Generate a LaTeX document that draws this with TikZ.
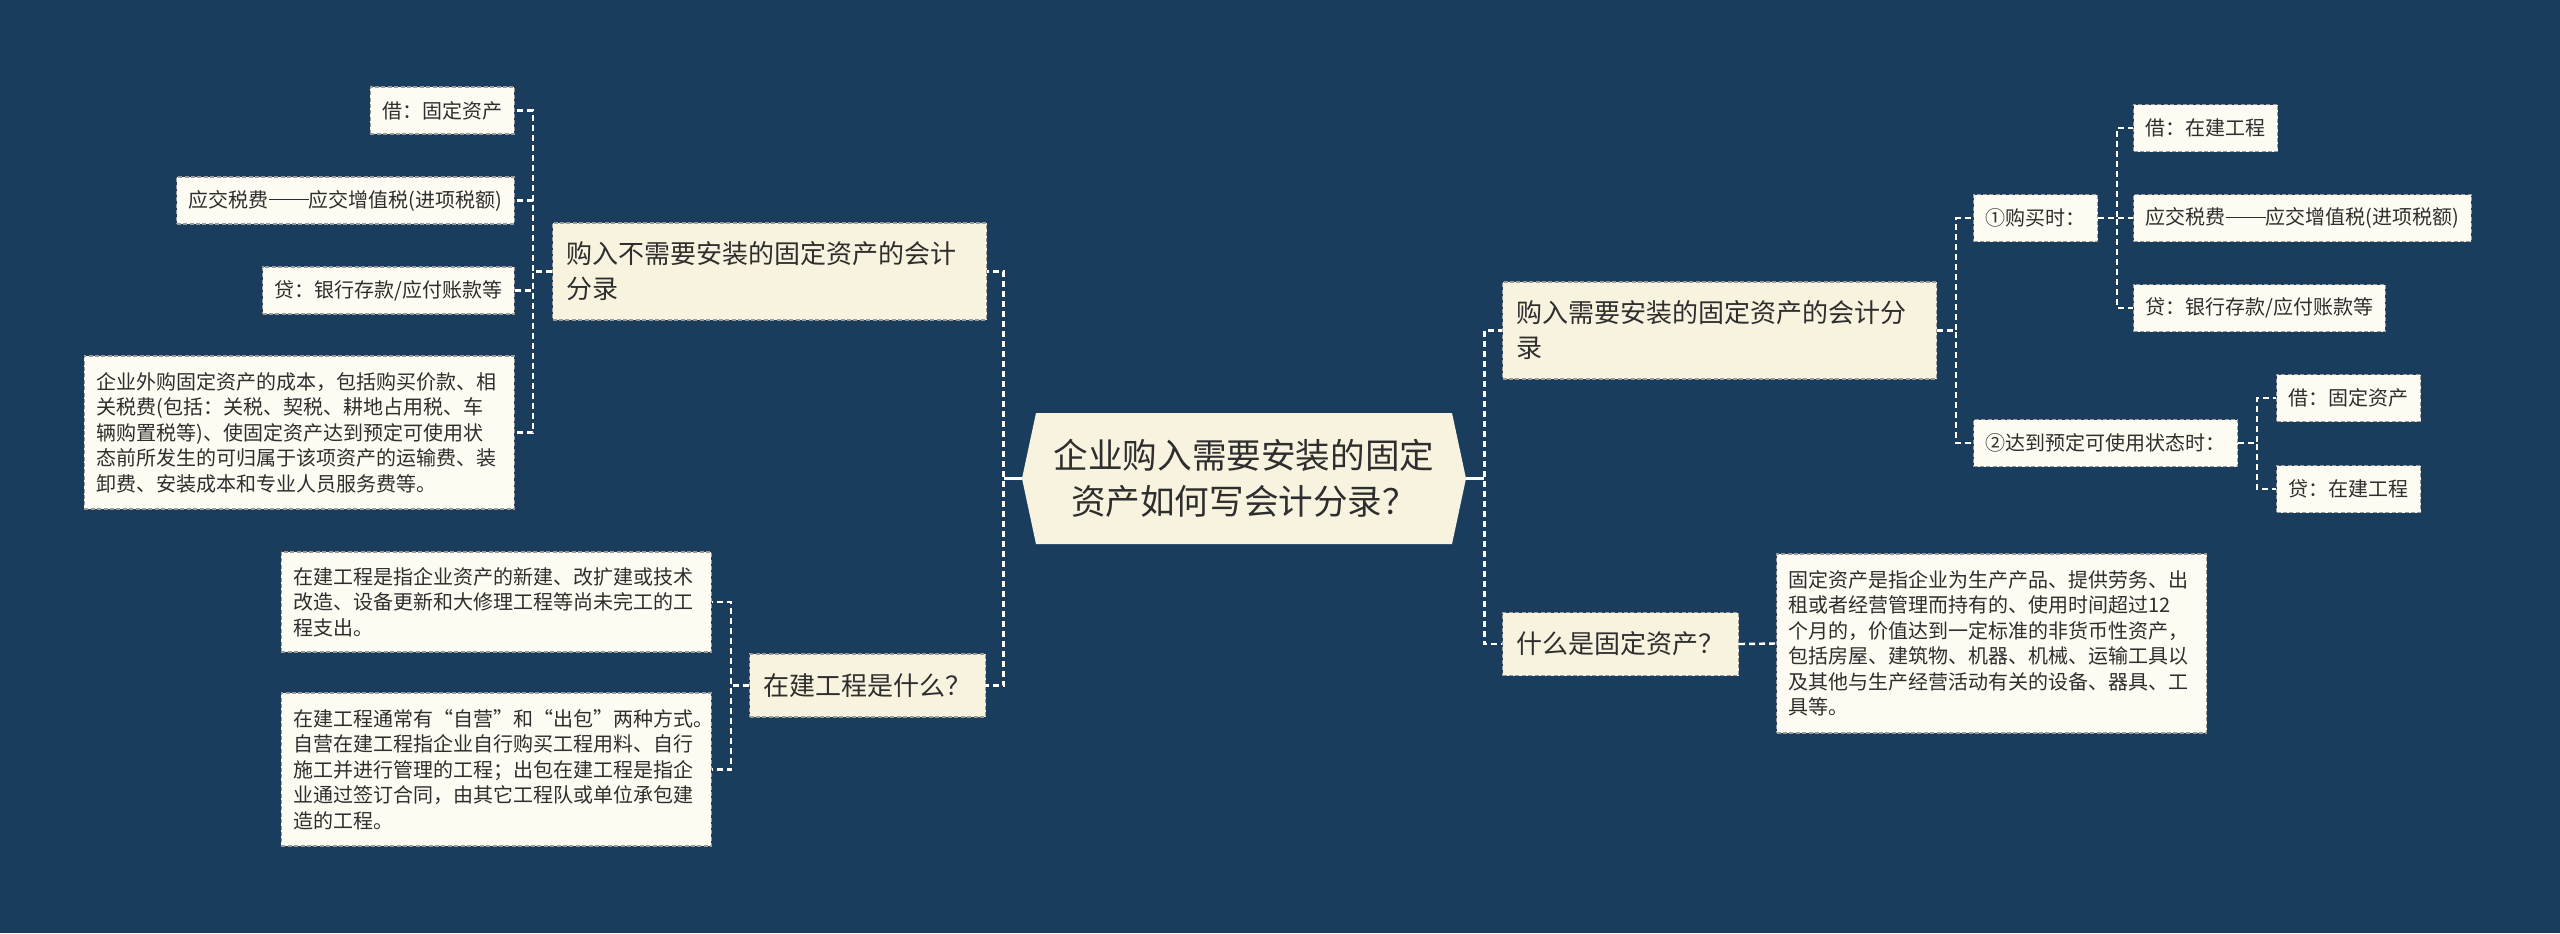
\documentclass[tikz,border=0pt]{standalone}
\usepackage{fontspec}
\usetikzlibrary{calc}
\newfontfamily\cjk{Noto Sans CJK SC}
\newcommand\emdd{\rule[0.33em]{2em}{0.07em}}
\definecolor{bgc}{HTML}{1A3D5E}
\definecolor{lvlc}{HTML}{F8F3DF}
\definecolor{leafc}{HTML}{FDFBF2}
\definecolor{bordc}{HTML}{9A9A9A}
\definecolor{txt}{HTML}{2E2E2E}
\tikzset{
  leaf/.style={fill=leafc, draw=bordc, dash pattern=on 2pt off 1.2pt, line width=0.6pt,
    font=\cjk\fontsize{10}{12.75}\selectfont, text=txt, inner xsep=6pt, inner ysep=0pt,
    minimum height=23.5pt},
  leafw/.style={leaf, text width=203pt, align=left},
  lvl/.style={fill=lvlc, draw=bordc, dash pattern=on 2pt off 1.2pt, line width=0.6pt,
    font=\cjk\fontsize{13}{17.5}\selectfont, text=txt, inner xsep=7pt, inner ysep=0pt,
    minimum height=31.5pt},
  conn/.style={draw=white, line width=1.2pt, dash pattern=on 3pt off 2pt},
  rootconn/.style={draw=white, line width=1.2pt}
}
\begin{document}
\begin{tikzpicture}[x=0.5pt, y=-0.5pt]
\fill[bgc] (0,0) rectangle (2560,933);
\useasboundingbox (0,0) rectangle (2560,933);

% root
\coordinate (rc) at (1244,478.5);
\fill[lvlc] ($(rc)+(-208,-65.5)$) -- ($(rc)+(208,-65.5)$) -- ($(rc)+(222,0)$)
  -- ($(rc)+(208,65.5)$) -- ($(rc)+(-208,65.5)$) -- ($(rc)+(-222,0)$) -- cycle;
\node[inner sep=0pt, minimum width=222pt, minimum height=65.5pt, align=center,
  font=\cjk\fontsize{17.3}{23}\selectfont, text=txt] (root) at (rc)
  {企业购入需要安装的固定\\资产如何写会计分录？};

% left branch 1
\node[lvl, text width=203pt, align=left, minimum height=48.5pt, anchor=west] (A) at (552,271.5)
  {购入不需要安装的固定资产的会计\\分录};
\node[leaf, anchor=east] (a1) at (515,110.5) {借：固定资产};
\node[leaf, anchor=east] (a2) at (515,200.5) {应交税费\emdd 应交增值税(进项税额)};
\node[leaf, anchor=east] (a3) at (515,290.5) {贷：银行存款/应付账款等};
\node[leafw, anchor=east, minimum height=76.5pt] (a4) at (515,432.5)
  {企业外购固定资产的成本，包括购买价款、相\\关税费(包括：关税、契税、耕地占用税、车\\辆购置税等)、使固定资产达到预定可使用状\\态前所发生的可归属于该项资产的运输费、装\\卸费、安装成本和专业人员服务费等。};

% left branch 2
\node[lvl, anchor=west] (B) at (749,685.5) {在建工程是什么？};
\node[leafw, anchor=east, minimum height=50pt] (b1) at (712,602)
  {在建工程是指企业资产的新建、改扩建或技术\\改造、设备更新和大修理工程等尚未完工的工\\程支出。};
\node[leafw, anchor=east, minimum height=76.5pt] (b2) at (712,769.5)
  {在建工程通常有“自营”和“出包”两种方式。\\自营在建工程指企业自行购买工程用料、自行\\施工并进行管理的工程；出包在建工程是指企\\业通过签订合同，由其它工程队或单位承包建\\造的工程。};

% right branch 1
\node[lvl, text width=203pt, align=left, minimum height=48.5pt, anchor=west] (C) at (1502,330.5)
  {购入需要安装的固定资产的会计分\\录};
\node[leaf, anchor=west] (c1) at (1973,218) {①购买时：};
\node[leaf, anchor=west] (c2) at (1973,443) {②达到预定可使用状态时：};
\node[leaf, anchor=west] (c11) at (2133,128) {借：在建工程};
\node[leaf, anchor=west] (c12) at (2133,218) {应交税费\emdd 应交增值税(进项税额)};
\node[leaf, anchor=west] (c13) at (2133,308) {贷：银行存款/应付账款等};
\node[leaf, anchor=west] (c21) at (2276,398) {借：固定资产};
\node[leaf, anchor=west] (c22) at (2276,489) {贷：在建工程};

% right branch 2
\node[lvl, anchor=west] (D) at (1502,644) {什么是固定资产？};
\node[leafw, anchor=west, minimum height=89.5pt] (d1) at (1776,643.5)
  {固定资产是指企业为生产产品、提供劳务、出\\租或者经营管理而持有的、使用时间超过12\\个月的，价值达到一定标准的非货币性资产，\\包括房屋、建筑物、机器、机械、运输工具以\\及其他与生产经营活动有关的设备、器具、工\\具等。};

% connectors
\draw[conn] (root.west) -- ++(-18,0) |- (A.east);
\draw[conn] (root.west) -- ++(-18,0) |- (B.east);
\draw[rootconn] (root.west) -- ++(-18,0);
\draw[conn] (root.east) -- ++(18,0) |- (C.west);
\draw[conn] (root.east) -- ++(18,0) |- (D.west);
\draw[rootconn] (root.east) -- ++(18,0);

\draw[conn] (A.west) -- ++(-19,0) |- (a1.east);
\draw[conn] (A.west) -- ++(-19,0) |- (a2.east);
\draw[conn] (A.west) -- ++(-19,0) |- (a3.east);
\draw[conn] (A.west) -- ++(-19,0) |- (a4.east);

\draw[conn] (B.west) -- ++(-18,0) |- (b1.east);
\draw[conn] (B.west) -- ++(-18,0) |- (b2.east);

\draw[conn] (C.east) -- ++(19,0) |- (c1.west);
\draw[conn] (C.east) -- ++(19,0) |- (c2.west);
\draw[conn] (c1.east) -- ++(19,0) |- (c11.west);
\draw[conn] (c1.east) -- ++(19,0) |- (c12.west);
\draw[conn] (c1.east) -- ++(19,0) |- (c13.west);
\draw[conn] (c2.east) -- ++(19,0) |- (c21.west);
\draw[conn] (c2.east) -- ++(19,0) |- (c22.west);

\draw[conn] (D.east) -- (d1.west);
\end{tikzpicture}
\end{document}
